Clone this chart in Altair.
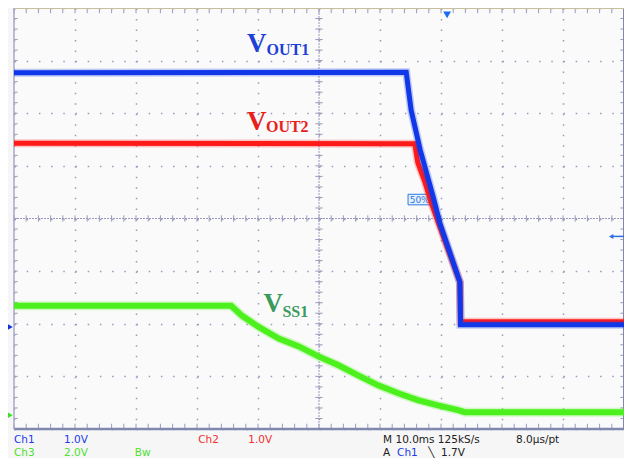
import altair as alt
import pandas as pd

# ---- trace data (time in ms, 10 ms/div; level in screen divisions, 0..8) ----
blue_t = [0, 64.3, 65.1, 66.6, 68.7, 69.8, 73.1, 73.2, 100]
blue_v = [6.77, 6.78, 6.06, 5.30, 4.42, 3.92, 2.79, 1.98, 1.98]

red_t = [0, 65.7, 66.2, 67.4, 68.4, 69.5, 73.1, 73.2, 100]
red_v = [5.43, 5.42, 5.06, 4.68, 4.30, 3.94, 2.79, 2.04, 2.04]

green_t = [0, 35.6, 37.4, 40.1, 43.4, 46.7, 49.9, 53.2, 56.4, 59.7, 63.0, 66.2, 69.5, 72.8, 73.9, 100]
green_v = [2.34, 2.34, 2.15, 1.94, 1.72, 1.57, 1.38, 1.21, 1.02, 0.83, 0.68, 0.55, 0.45, 0.36, 0.32, 0.32]

# ---- trace labels ----
lab_main = ["V", "V", "V"]
lab_sub = ["OUT1", "OUT2", "SS1"]
lab_t = [38.2, 38.2, 40.9]
lab_v = [7.17, 5.68, 2.23]
lab_sub_t = [41.4, 41.3, 44.0]
lab_sub_v = [7.11, 5.64, 2.13]
lab_color = ["#1f3fd6", "#e8201c", "#3a9a5c"]

# ---- status text under the screen ----
st_text = ["Ch1", "1.0V", "Ch2", "1.0V", "M 10.0ms 125kS/s", "8.0\u00b5s/pt",
           "Ch3", "2.0V", "Bw", "A", "Ch1", "\u2572", "1.7V"]
st_t = [0, 8.2, 30.2, 38.4, 60.5, 82.3,
        0, 8.2, 19.8, 60.5, 62.8, 67.9, 70.0]
st_v = [-0.266, -0.266, -0.266, -0.266, -0.266, -0.266,
        -0.504, -0.504, -0.504, -0.504, -0.504, -0.504, -0.504]
st_color = ["#1a3ae8", "#1a3ae8", "#f03030", "#f03030", "#202020", "#202020",
            "#50e030", "#50e030", "#50e030", "#202020", "#1a3ae8", "#202020", "#202020"]

major_x = list(range(0, 101, 10))
major_y = list(range(0, 9))
minor_x = [i * 2 for i in range(51)]
minor_y = [round(i * 0.2, 2) for i in range(41)]

xs = alt.Scale(domain=[0, 100], nice=False, zero=False)
ys = alt.Scale(domain=[0, 8], nice=False, zero=False)
X_AX = alt.Axis(values=major_x, labels=False, ticks=False, domain=False, title="", grid=True)
Y_AX = alt.Axis(values=major_y, labels=False, ticks=False, domain=False, title="", grid=True)


def X(f="t"):
    return alt.X(f"{f}:Q", scale=xs, axis=X_AX)


def Y(f="v"):
    return alt.Y(f"{f}:Q", scale=ys, axis=Y_AX)


GRID = "#9a9abc"

# minor tick marks on the centre lines and the screen border
rows = []
for y in minor_y:
    rows.append(dict(t=49.4, t2=50.6, v=y, v2=y))
    rows.append(dict(t=0, t2=0.6, v=y, v2=y))
    rows.append(dict(t=99.4, t2=100, v=y, v2=y))
for x in minor_x:
    rows.append(dict(t=x, t2=x, v=3.94, v2=4.06))
    rows.append(dict(t=x, t2=x, v=0, v2=0.1))
    rows.append(dict(t=x, t2=x, v=7.9, v2=8))
ticks = alt.Chart(pd.DataFrame(rows)).mark_rule(color=GRID, strokeWidth=1).encode(
    x=X("t"), x2="t2", y=Y("v"), y2="v2")

centre = alt.Chart(pd.DataFrame([
    dict(t=50, t2=50, v=0, v2=8),
    dict(t=0, t2=100, v=4, v2=4),
])).mark_rule(color=GRID, strokeWidth=1, strokeDash=[2, 1]).encode(
    x=X("t"), x2="t2", y=Y("v"), y2="v2")

border = alt.Chart(pd.DataFrame([
    dict(t=0, t2=100, v=0, v2=0, c="#8088b0", w=2.5),
    dict(t=100, t2=100, v=0, v2=8, c="#8088b0", w=2),
    dict(t=0, t2=0, v=0, v2=8, c="#a8a8c8", w=1.5),
    dict(t=0, t2=100, v=8, v2=8, c="#c8c09c", w=2),
])).mark_rule().encode(
    x=X("t"), x2="t2", y=Y("v"), y2="v2",
    color=alt.Color("c:N", scale=None), strokeWidth=alt.StrokeWidth("w:Q", scale=None))


def trace(ts, vs, color, w):
    df = pd.DataFrame({"t": ts, "v": vs, "i": range(len(ts))})
    halo = alt.Chart(df).mark_line(color=color, strokeWidth=w + 3, opacity=0.25,
                                   strokeJoin="miter").encode(x=X(), y=Y(), order="i:Q")
    core = alt.Chart(df).mark_line(color=color, strokeWidth=w,
                                   strokeJoin="miter").encode(x=X(), y=Y(), order="i:Q")
    return [halo, core]


box = alt.Chart(pd.DataFrame([dict(t=64.6, t2=68.4, v=4.26, v2=4.46)])).mark_rect(
    fill="#e6f0ff", stroke="#2a7ae0", strokeWidth=1).encode(x=X("t"), x2="t2", y=Y("v"), y2="v2")
box_txt = alt.Chart(pd.DataFrame([dict(t=66.5, v=4.36, s="50%")])).mark_text(
    fontSize=9, font="DejaVu Sans", color="#2a7ae0", baseline="middle").encode(
    x=X(), y=Y(), text="s:N")

markers = alt.Chart(pd.DataFrame([
    dict(t=71.0, v=7.87, s="triangle-down", c="#1a6cf0", z=60),
    dict(t=97.9, v=3.66, s="triangle-left", c="#3070e0", z=25),
    dict(t=-0.6, v=1.94, s="triangle-right", c="#1030e0", z=30),
    dict(t=-0.6, v=0.26, s="triangle-right", c="#40e020", z=30),
])).mark_point(filled=True, opacity=1).encode(
    x=X(), y=Y(), shape=alt.Shape("s:N", scale=None),
    color=alt.Color("c:N", scale=None), size=alt.Size("z:Q", scale=None))
arrow = alt.Chart(pd.DataFrame([dict(t=97.9, t2=100, v=3.66, v2=3.66)])).mark_rule(
    color="#3070e0", strokeWidth=1.5).encode(x=X("t"), x2="t2", y=Y("v"), y2="v2")

lab_df = pd.DataFrame({"s": lab_main, "t": lab_t, "v": lab_v, "c": lab_color})
sub_df = pd.DataFrame({"s": lab_sub, "t": lab_sub_t, "v": lab_sub_v, "c": lab_color})
lab1 = alt.Chart(lab_df).mark_text(align="left", baseline="alphabetic", font="Liberation Serif",
                                   fontWeight="bold", fontSize=27).encode(
    x=X(), y=Y(), text="s:N", color=alt.Color("c:N", scale=None))
lab2 = alt.Chart(sub_df).mark_text(align="left", baseline="alphabetic", font="Liberation Serif",
                                   fontWeight="bold", fontSize=16).encode(
    x=X(), y=Y(), text="s:N", color=alt.Color("c:N", scale=None))

st_df = pd.DataFrame({"s": st_text, "t": st_t, "v": st_v, "c": st_color})
status = alt.Chart(st_df).mark_text(align="left", baseline="alphabetic", font="DejaVu Sans",
                                    fontSize=10.5).encode(
    x=X(), y=Y(), text="s:N", color=alt.Color("c:N", scale=None))

layers = [ticks, centre, border, box, box_txt]
layers += trace(red_t, red_v, "#ff1a1a", 5)
layers += trace(blue_t, blue_v, "#1038e8", 5)
layers += trace(green_t, green_v, "#4cf01c", 6)
layers += [arrow, markers, lab1, lab2, status]

chart = alt.layer(*layers).properties(
    width=610, height=421,
    autosize=alt.AutoSizeParams(type="none"),
    padding={"left": 6, "top": 0, "right": 0, "bottom": 29},
    background="#f6f6f6",
).configure_view(fill="#fafafa", strokeWidth=0).configure_axis(
    gridColor=GRID, gridWidth=1.5, gridOpacity=1,
).configure_axisX(gridDash=[1.5, 9.02]).configure_axisY(gridDash=[1.5, 10.7])

chart.save("out.html", embed_options={"renderer": "svg", "actions": False})
